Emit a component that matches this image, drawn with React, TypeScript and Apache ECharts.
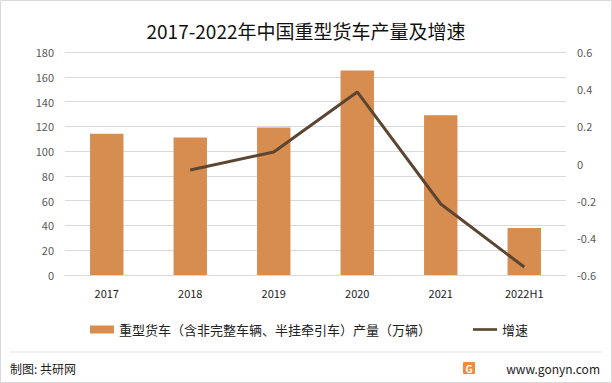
import React, { useEffect, useRef } from "react";
import * as echarts from "echarts";

const categories = ["2017", "2018", "2019", "2020", "2021", "2022H1"];
const production = [114, 111, 119, 165, 129, 38];
const growth: (number | null)[] = [null, -0.035, 0.062, 0.385, -0.218, -0.557];
const leftTicks = { min: 0, max: 180, interval: 20 };
const rightTicks = { min: -0.6, max: 0.6, interval: 0.2 };

export default function App() {
  const ref = useRef<HTMLDivElement>(null);
  useEffect(() => {
    if (!ref.current) return;
    const chart = echarts.init(ref.current, null, { renderer: "svg" });
    const font = "'Microsoft YaHei', 'Noto Sans CJK SC', sans-serif";
    chart.setOption({
      animation: false,
      backgroundColor: "#ffffff",
      title: {
        text: "2017-2022年中国重型货车产量及增速",
        left: "center",
        top: 16,
        textStyle: { fontSize: 19, fontWeight: "normal", color: "#111", fontFamily: font },
      },
      grid: { left: 65, right: 46, top: 52, bottom: 108 },
      legend: {
        left: 85,
        top: 318,
        itemGap: 42,
        itemWidth: 24,
        itemHeight: 8,
        textStyle: { fontSize: 13, color: "#222", fontFamily: font },
        data: [
          { name: "重型货车（含非完整车辆、半挂牵引车）产量（万辆）", icon: "rect" },
          { name: "增速", icon: "path://M0,0 H27 V3 H0 Z", itemStyle: { color: "#5C4632" } },
        ],
      },
      xAxis: {
        type: "category",
        data: categories,
        axisLine: { show: true, lineStyle: { color: "#d9d9d9" } },
        axisTick: { show: false },
        axisLabel: { fontSize: 11, color: "#222", margin: 12, fontFamily: font },
      },
      yAxis: [
        {
          type: "value",
          ...leftTicks,
          axisLine: { show: false },
          axisTick: { show: false },
          splitLine: { lineStyle: { color: "#d9d9d9" } },
          axisLabel: { fontSize: 11, color: "#595959", margin: 11, fontFamily: font },
        },
        {
          type: "value",
          ...rightTicks,
          axisLine: { show: false },
          axisTick: { show: false },
          splitLine: { show: false },
          axisLabel: {
            fontSize: 11,
            color: "#595959",
            margin: 11,
            fontFamily: font,
            formatter: (v: number) => {
              const r = Math.round(v * 10) / 10;
              return r === 0 ? "0" : String(r);
            },
          },
        },
      ],
      series: [
        {
          name: "重型货车（含非完整车辆、半挂牵引车）产量（万辆）",
          type: "bar",
          data: production,
          barCategoryGap: "60%",
          itemStyle: { color: "#D68D4F" },
        },
        {
          name: "增速",
          type: "line",
          yAxisIndex: 1,
          data: growth,
          symbol: "none",
          lineStyle: { color: "#5C4632", width: 3 },
          itemStyle: { color: "#5C4632" },
        },
      ],
      graphic: [
        {
          type: "rect",
          shape: { x: 0.5, y: 0.5, width: 611, height: 382 },
          style: { fill: "none", stroke: "#d9d9d9", lineWidth: 1 },
          silent: true,
        },
        {
          type: "line",
          shape: { x1: 10, y1: 352, x2: 602, y2: 352 },
          style: { stroke: "#e3e3e3", lineWidth: 1 },
        },
        {
          type: "text",
          x: 10,
          y: 368,
          style: {
            text: "制图: 共研网",
            fontSize: 12,
            fill: "#222",
            fontFamily: font,
            verticalAlign: "middle",
          },
        },
        {
          type: "rect",
          shape: { x: 463, y: 362, width: 12, height: 12, r: 1 },
          style: { fill: "#F08A3C" },
        },
        {
          type: "text",
          x: 469,
          y: 368,
          style: {
            text: "G",
            fontSize: 10,
            fontWeight: "bold",
            fill: "#fff",
            align: "center",
            verticalAlign: "middle",
            fontFamily: font,
          },
        },
        {
          type: "text",
          x: 600,
          y: 368,
          style: {
            text: "www.gonyn.com",
            fontSize: 12,
            fill: "#222",
            align: "right",
            verticalAlign: "middle",
            fontFamily: font,
          },
        },
      ],
    });
    return () => chart.dispose();
  }, []);
  return (
    <div
      ref={ref}
      style={{ position: "fixed", left: 0, top: 0, width: 612, height: 383 }}
    />
  );
}
